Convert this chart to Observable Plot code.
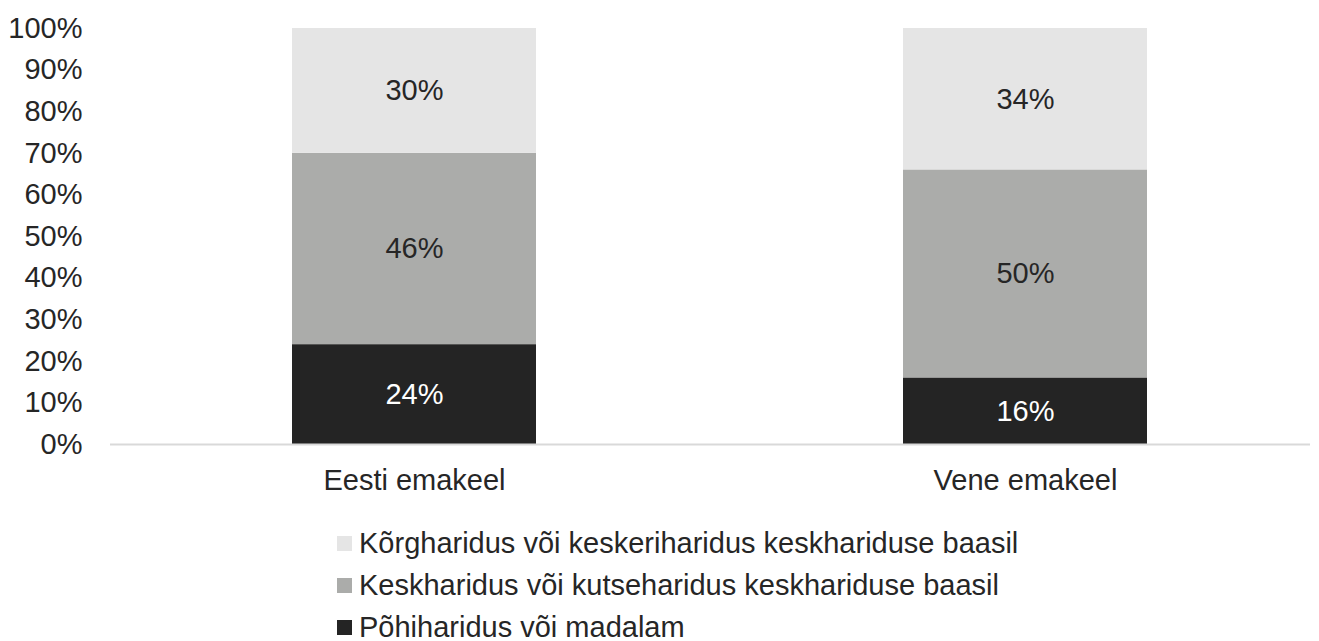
<!DOCTYPE html>
<html><head><meta charset="utf-8">
<script src="https://cdn.jsdelivr.net/npm/d3@7"></script>
<script src="https://cdn.jsdelivr.net/npm/@observablehq/plot@0.6"></script>
<style>
body{margin:0;background:#fff;font-family:"Liberation Sans",Arial,sans-serif;}
#legend{position:absolute;left:337px;top:522px;font-size:29px;color:#262626;}
.row{height:42px;display:flex;align-items:center;}
.sw{width:15px;height:15px;margin-right:7px;}
</style></head><body>
<div id="chart"></div>
<div id="legend"></div>
<script>
const groups = ["Eesti emakeel", "Vene emakeel"];
const series = ["Põhiharidus või madalam", "Keskharidus või kutseharidus keskhariduse baasil", "Kõrgharidus või keskeriharidus keskhariduse baasil"];
const colors = ["#242424", "#abacaa", "#e5e5e5"];
const textColors = ["#ffffff", "#262626", "#262626"];
const eesti = [24, 46, 30];
const vene = [16, 50, 34];
const yTicks = [0,10,20,30,40,50,60,70,80,90,100];

const vals = [eesti, vene];
const data = [];
groups.forEach((g, gi) => series.forEach((s, si) => data.push({group: g, series: s, value: vals[gi][si], si})));

const chart = Plot.plot({
  width: 1319, height: 500,
  marginLeft: 110, marginRight: 9, marginTop: 28, marginBottom: 56,
  style: {fontFamily: '"Liberation Sans", Arial, sans-serif', fontSize: "29px", color: "#262626", background: "#fff"},
  x: {domain: groups, range: [109, 1331], paddingInner: 0.6, paddingOuter: 0.3, label: null},
  y: {domain: [0, 100], label: null},
  color: {domain: series, range: colors},
  marks: [
    Plot.barY(data, Plot.stackY({x: "group", y: "value", fill: "series", order: series})),
    Plot.text(data, Plot.stackY({x: "group", y: "value", order: series, text: d => d.value + "%", fill: d => textColors[d.si], fontSize: 29})),
    Plot.ruleY([0], {stroke: "#d9d9d9", strokeWidth: 2}),
    Plot.axisY(yTicks, {tickSize: 0, tickPadding: 28, tickFormat: d => d + "%", fontSize: 29, fill: "#262626"}),
    Plot.axisX({tickSize: 0, tickPadding: 25, fontSize: 29, fill: "#262626"})
  ]
});
document.getElementById("chart").appendChild(chart);

const leg = document.getElementById("legend");
[2, 1, 0].forEach(i => {
  const r = document.createElement("div"); r.className = "row";
  const sw = document.createElement("div"); sw.className = "sw"; sw.style.background = colors[i];
  const t = document.createElement("span"); t.textContent = series[i];
  r.appendChild(sw); r.appendChild(t); leg.appendChild(r);
});
</script>
</body></html>
